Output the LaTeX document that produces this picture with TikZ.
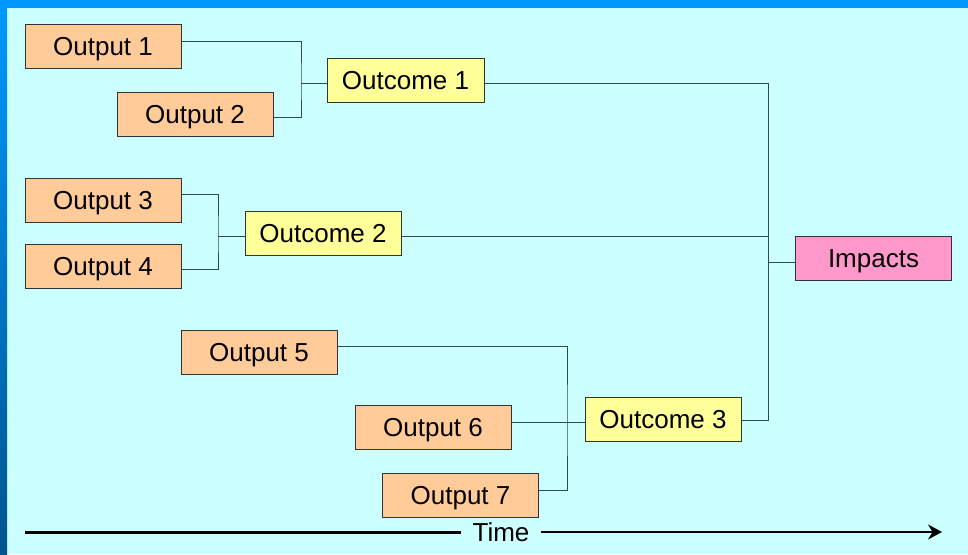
\documentclass[tikz,border=0pt]{standalone}
\usepackage{fontspec}
\setmainfont{Liberation Sans}
\usetikzlibrary{arrows.meta}
\definecolor{bgcyan}{HTML}{CCFFFF}
\definecolor{barblue}{HTML}{0099FF}
\definecolor{bardark}{HTML}{00558F}
\definecolor{outfill}{HTML}{FFCC99}
\definecolor{ocfill}{HTML}{FFFF99}
\definecolor{impfill}{HTML}{FF99CC}
\definecolor{connclr}{HTML}{2E4A4A}

\begin{document}
\begin{tikzpicture}[x=1pt,y=-1pt,
  box/.style={draw=black!80, line width=1pt, minimum width=156pt,
    minimum height=44pt, inner sep=0pt, text height=18.5pt, text depth=0pt,
    font=\fontsize{26}{31}\selectfont},
  outbox/.style={box, fill=outfill},
  ocbox/.style={box, fill=ocfill},
  impbox/.style={box, fill=impfill},
  conn/.style={draw=connclr, line width=1pt},
  timelbl/.style={inner xsep=11pt, inner ysep=0pt, text height=18.5pt,
    text depth=0pt, font=\fontsize{26}{31}\selectfont}]
\useasboundingbox (0,0) rectangle (968,554);

% slide background and frame bars
\fill[bgcyan] (0,0) rectangle (968,554);
\fill[barblue] (0,0) rectangle (968,8);
\shade[top color=barblue, bottom color=bardark] (0,0) rectangle (7,554);

% boxes
\node[outbox] (out1) at (103,46.5) {Output 1};
\node[outbox] (out2) at (195,114) {Output 2};
\node[ocbox, minimum width=157pt] (oc1) at (405.5,80.5) {Outcome 1};
\node[outbox] (out3) at (103,200) {Output 3};
\node[outbox] (out4) at (103,266) {Output 4};
\node[ocbox] (oc2) at (323,233) {Outcome 2};
\node[outbox] (out5) at (259,352) {Output 5};
\node[outbox] (out6) at (433,427) {Output 6};
\node[outbox] (out7) at (460.5,495) {Output 7};
\node[ocbox] (oc3) at (663,419) {Outcome 3};
\node[impbox] (imp) at (873.5,258) {Impacts};

% junction points of the bracket connectors
\coordinate (j1) at (301,83);
\coordinate (j2) at (218,236);
\coordinate (j3) at (567,422);
\coordinate (j4) at (768,262);

% outputs to outcomes
\draw[conn] ([yshift=5pt]out1.east) -| (j1) |- ([yshift=-3pt]out2.east);
\draw[conn] (j1) -- (j1 -| oc1.west);
\draw[conn] ([yshift=6pt]out3.east) -| (j2) |- ([yshift=-3pt]out4.east);
\draw[conn] (j2) -- (j2 -| oc2.west);
\draw[conn] ([yshift=6pt]out5.east) -| (j3) |- ([yshift=5pt]out7.east);
\draw[conn] ([yshift=5pt]out6.east) -- ([yshift=5pt]out6.east -| oc3.west);

% outcomes to impacts
\draw[conn] ([yshift=-2.5pt]oc1.east) -| (j4) |- ([yshift=-1pt]oc3.east);
\draw[conn] ([yshift=-3pt]oc2.east) -- ([yshift=-3pt]oc2.east -| j4);
\draw[conn] (j4) -- (j4 -| imp.west);

% time axis
\node[timelbl] (time) at (501,532) {Time};
\coordinate (tstart) at (25,532);
\coordinate (tend) at (942,532);
\draw[line width=3pt] (tstart) -- (time.west);
\draw[line width=2pt, -{Stealth[length=14pt, width=15pt]}] (time.east) -- (tend);
\end{tikzpicture}
\end{document}
